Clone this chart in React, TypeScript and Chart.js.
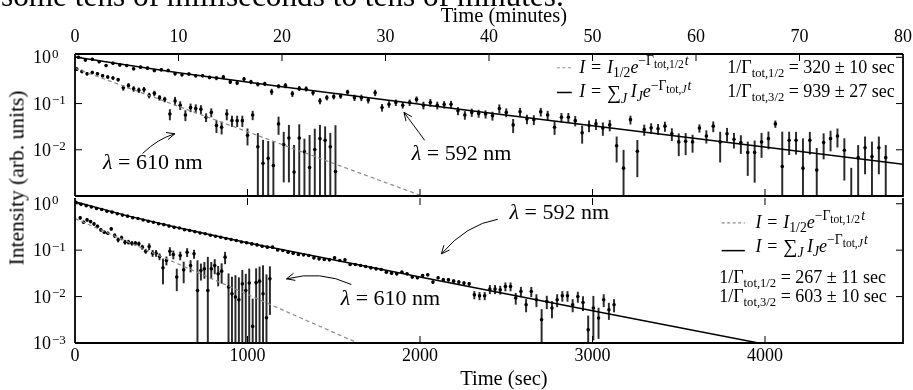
import React, { useEffect, useRef } from "react";
import { Chart, registerables } from "chart.js";
Chart.register(...registerables);

const FONT = '"Liberation Serif", "DejaVu Serif", serif';

// ---------------- data (seconds, arb. units) ----------------
const topTime592 = [20, 60, 100, 140, 180, 220, 260, 300, 340, 380, 420, 460, 500, 540, 580, 620, 660, 700, 740, 780, 820, 860, 900, 940, 980, 1020, 1060, 1100, 1140, 1180, 1220, 1260, 1300, 1340, 1380, 1420, 1460, 1500, 1540, 1580, 1620, 1660, 1700, 1740, 1780, 1820, 1860, 1900, 1940, 1980, 2020, 2060, 2100, 2140, 2180, 2220, 2260, 2300, 2340, 2380, 2420, 2460, 2500, 2540, 2580, 2620, 2660, 2700, 2740, 2780, 2820, 2860, 2900, 2940, 2980, 3020, 3060, 3100, 3140, 3180, 3220, 3260, 3300, 3340, 3380, 3420, 3460, 3500, 3540, 3580, 3620, 3660, 3700, 3740, 3780, 3820, 3860, 3900, 3940, 3980, 4020, 4060, 4100, 4140, 4180, 4220, 4260, 4300, 4340, 4380, 4420, 4460, 4500, 4540, 4580, 4620, 4660, 4700];
const topI592 = [1.0, 0.877, 0.906, 0.807, 0.663, 0.745, 0.686, 0.663, 0.564, 0.613, 0.583, 0.519, 0.537, 0.519, 0.442, 0.421, 0.435, 0.4, 0.4, 0.368, 0.357, 0.375, 0.294, 0.28, 0.34, 0.294, 0.261, 0.267, 0.18, 0.237,
  0.245, 0.163, 0.212, 0.208, 0.171, 0.114, 0.134, 0.141, 0.145, 0.177, 0.134, 0.134, 0.119, 0.171, 0.0822, 0.0966, 0.105, 0.092, 0.105, 0.123, 0.092, 0.105, 0.092, 0.0953, 0.0966, 0.0697, 0.0564, 0.0644, 0.0612, 0.0592,
  0.0545, 0.0782, 0.0644, 0.0345, 0.0663, 0.0463, 0.0448, 0.0663, 0.0564, 0.0308, 0.0504, 0.0504, 0.0427, 0.0233, 0.0334, 0.0363, 0.0294, 0.0345, 0.0122, 0.004, 0.0448, 0.0093, 0.0274, 0.0298, 0.0284, 0.0324, 0.0222, 0.0148, 0.0152,
  0.0148, 0.0294, 0.0199, 0.0324, 0.0148, 0.0222, 0.0168, 0.0143, 0.00877, 0.00877, 0.0148, 0.0174, 0.0363, 0.00435, 0.016, 0.016, 0.004, 0.016, 0.00363, 0.0143, 0.0174, 0.0199, 0.0098, 0.0008, 0.00676, 0.011, 0.0071, 0.011, 0.00676];
const topErr592 = [0.06, 0.053, 0.054, 0.048, 0.04, 0.045, 0.041, 0.04, 0.034, 0.037,
  0.041, 0.036, 0.038, 0.036, 0.031, 0.029, 0.03, 0.028, 0.028, 0.026,
  0.032, 0.034, 0.026, 0.025, 0.031, 0.026, 0.023, 0.024, 0.025, 0.021,
  0.027, 0.022, 0.023, 0.023, 0.019, 0.016, 0.015, 0.016, 0.016, 0.019,
  0.019, 0.019, 0.017, 0.024, 0.014, 0.014, 0.015, 0.013, 0.015, 0.017,
  0.016, 0.018, 0.016, 0.016, 0.016, 0.013, 0.011, 0.012, 0.011, 0.011,
  0.011, 0.016, 0.013, 0.011, 0.013, 0.01, 0.01, 0.013, 0.012, 0.0095,
  0.011, 0.011, 0.01, 0.0095, 0.009, 0.009, 0.009, 0.009, 0.0068, 0.0058,
  0.009, 0.0067, 0.007, 0.007, 0.007, 0.0075, 0.0065, 0.0074, 0.0074,
  0.006, 0.0055, 0.006, 0.008, 0.0094, 0.007, 0.006, 0.006, 0.006, 0.0068, 0.008,
  0.007, 0.006, 0.0199, 0.0082, 0.008, 0.0134, 0.008, 0.0071, 0.008, 0.008,
  0.0085, 0.0076, 0.0032, 0.0057, 0.008, 0.0077, 0.008, 0.0057];

const topTime610 = [10, 40, 70, 100, 130, 160, 190, 220, 250, 280, 310, 340, 370, 400, 430, 460, 490, 520, 550, 580, 610, 640, 670, 700, 730, 760, 790, 820, 850, 880, 910, 940, 970, 1000, 1030, 1060, 1090, 1120, 1150, 1180, 1210, 1240, 1270, 1300, 1330, 1360, 1390, 1420, 1450, 1480, 1510];
const topI610 = [0.555, 0.494, 0.441, 0.47, 0.441, 0.4, 0.375, 0.357, 0.329, 0.219, 0.245, 0.208, 0.195, 0.201, 0.15, 0.166, 0.134, 0.123, 0.0592, 0.114, 0.092, 0.0564, 0.0822, 0.0783, 0.0756, 0.0504, 0.0644, 0.0334, 0.0308, 0.0592, 0.0427, 0.0427, 0.0427, 0.0205, 0.0564, 0.0116, 0.00511, 0.00653, 0.00457, 0.0363, 0.013, 0.018, 0.00329, 0.018, 0.00906, 0.00414, 0.0101, 0.0174, 0.016, 0.0116, 0.0034];
const topErr610 = [0.039, 0.035, 0.031, 0.033, 0.031, 0.028, 0.026, 0.025, 0.023, 0.026, 0.029, 0.025, 0.023, 0.024, 0.018, 0.02, 0.016, 0.015, 0.015, 0.023, 0.018, 0.014, 0.016, 0.016, 0.015, 0.01, 0.013, 0.01, 0.009, 0.015, 0.011, 0.011, 0.011, 0.0079, 0.012, 0.011, 0.011, 0.0087, 0.0103, 0.0149, 0.011, 0.016, 0.0092, 0.017, 0.008, 0.0164, 0.018, 0.0165, 0.0155, 0.0112, 0.03];

const botTime592 = [5, 35, 65, 95, 125, 155, 185, 215, 245, 275, 305, 335, 365, 395, 425, 455, 485, 515, 545, 575, 605, 635, 665, 695, 725, 755, 785, 815, 845, 875, 905, 935, 965, 995, 1025, 1055, 1085, 1115, 1145, 1175, 1205, 1235, 1265, 1295, 1325, 1355, 1385, 1415, 1445, 1475, 1505, 1535, 1565, 1595, 1625, 1655, 1685, 1715, 1745, 1775, 1805, 1835, 1865, 1895, 1925, 1955, 1985, 2015, 2045, 2075, 2105, 2135, 2165, 2195, 2225, 2255, 2285, 2315, 2345, 2375, 2405, 2435, 2465, 2495, 2525, 2555, 2585, 2615, 2645, 2675, 2705, 2735, 2765, 2795, 2825, 2855, 2885, 2915, 2945, 2975, 3005, 3035, 3065, 3095, 3125];
const botI592 = [1.08, 0.97, 0.91, 0.85, 0.79, 0.75, 0.69, 0.66, 0.61, 0.57, 0.54, 0.5, 0.48, 0.445, 0.42, 0.4, 0.37, 0.355, 0.33, 0.31, 0.3, 0.275, 0.265, 0.25, 0.235, 0.225, 0.21, 0.2, 0.19, 0.178, 0.17, 0.162, 0.15, 0.145,
  0.1365, 0.13, 0.1217, 0.116, 0.116, 0.1014, 0.0982, 0.0904, 0.0861, 0.0805, 0.0792, 0.0766, 0.0683, 0.065, 0.0628, 0.0618, 0.0683, 0.0598, 0.0618, 0.0491, 0.0491, 0.0468, 0.0445, 0.0416, 0.0396, 0.0383, 0.0336, 0.032, 0.0309, 0.0336, 0.0309, 0.0263, 0.0254, 0.0284, 0.0294, 0.0205, 0.0254,
  0.023, 0.023, 0.0215, 0.0205, 0.0195, 0.0188,
  0.0109, 0.0104, 0.0104, 0.0145, 0.0145, 0.014, 0.0165, 0.0165, 0.0093, 0.0129, 0.00667, 0.0129, 0.00853, 0.00317, 0.00785, 0.00566, 0.00853, 0.0104, 0.0104, 0.00667, 0.01, 0.00747, 0.00193, 0.00566, 0.00345, 0.00853, 0.0052, 0.00667];
const botErr592 = [0.032, 0.029, 0.027, 0.026, 0.024, 0.023, 0.021, 0.02, 0.018, 0.017, 0.016, 0.015, 0.014, 0.013, 0.013, 0.012, 0.011, 0.011, 0.01, 0.0093, 0.009, 0.0083, 0.008, 0.0075, 0.0071, 0.0068, 0.0063, 0.006, 0.0057, 0.0053, 0.0051, 0.0049, 0.0045, 0.0044,
  0.0068, 0.0065, 0.0061, 0.0058, 0.0058, 0.0051, 0.0049, 0.0045, 0.0043, 0.004, 0.004, 0.0038, 0.0034, 0.0033, 0.0031, 0.0031, 0.0034, 0.003, 0.0031, 0.0025, 0.0025, 0.0023, 0.0022, 0.0021, 0.002, 0.0019, 0.0017, 0.0016, 0.0015, 0.0017, 0.0015, 0.0013, 0.0013, 0.0014, 0.0015, 0.0012, 0.0013,
  0.0018, 0.0018, 0.0017, 0.0016, 0.0016, 0.0015,
  0.002, 0.0019, 0.0019, 0.003, 0.003, 0.0028, 0.0033, 0.0033, 0.0025, 0.003, 0.002, 0.003, 0.0025, 0.0021, 0.0024, 0.0022, 0.0025, 0.0025, 0.0025, 0.002, 0.0025, 0.0025, 0.0019, 0.0045, 0.0022, 0.0025, 0.002, 0.002];

const botTime610 = [30, 50, 70, 90, 110, 130, 150, 170, 190, 210, 230, 250, 270, 290, 310, 330, 350, 370, 390, 410, 430, 450, 470, 490, 510, 530, 550, 570, 590, 610, 630, 650, 670, 690, 710, 730, 750, 770, 790, 810, 830, 850, 870, 890, 910, 930, 950, 970, 990, 1010, 1030, 1050, 1070, 1090, 1110, 1130];
const botI610 = [0.495, 0.4, 0.449, 0.412, 0.368, 0.328, 0.273, 0.244, 0.232, 0.287, 0.206, 0.167, 0.184, 0.149, 0.149, 0.141, 0.141, 0.137, 0.116, 0.095, 0.12, 0.0861, 0.0861, 0.0729, 0.0416, 0.0598, 0.095, 0.0805, 0.0263, 0.0766, 0.0377, 0.0904, 0.0468, 0.0832, 0.0135, 0.0365, 0.0396, 0.0135, 0.0396, 0.0468, 0.0309, 0.0353, 0.0707, 0.016, 0.0115, 0.00975, 0.00853, 0.0188, 0.0135, 0.0195, 0.00228, 0.02, 0.0215, 0.0115, 0.0035, 0.0241];
const botErr610 = [0.03, 0.024, 0.027, 0.025, 0.022, 0.02, 0.016, 0.015, 0.014, 0.017, 0.021, 0.017, 0.018, 0.015, 0.015, 0.014, 0.014, 0.014, 0.012, 0.01, 0.018, 0.013, 0.013, 0.011, 0.023, 0.012, 0.019, 0.016, 0.013, 0.015, 0.018, 0.018, 0.013, 0.017, 0.046, 0.014, 0.015, 0.057, 0.015, 0.016, 0.014, 0.016, 0.02, 0.015, 0.0148, 0.0187, 0.017, 0.018, 0.017, 0.02, 0.0066, 0.02, 0.022, 0.035, 0.026, 0.02];

// fitted curves
const topFitTime592 = [0, 300, 600, 1200, 2400, 3600, 4800];
const topFitI592 = [1.02, 0.684, 0.464, 0.231, 0.0626, 0.0175, 0.00486];
const topFitTime610 = [0, 2000];
const topFitI610 = [0.58, 0.00104];
const botFitTime592 = [0, 300, 600, 1000, 2000, 3000, 4000];
const botFitI592 = [1.1, 0.555, 0.304, 0.145, 0.0263, 0.00497, 0.00094];
const botFitTime610 = [0, 1700];
const botFitI610 = [0.48, 0.000795];

// axes
const secTicks = [0, 1000, 2000, 3000, 4000];
const minTicks = [0, 10, 20, 30, 40, 50, 60, 70, 80];
const topDecades = [1, 0.1, 0.01];
const botDecades = [1, 0.1, 0.01, 0.001];

// texts
const caption = "some tens of milliseconds to tens of minutes.";
const topTitle = "Time (minutes)";
const botTitle = "Time (sec)";
const yTitle = "Intensity (arb. units)";
const topTau = ["320 \u00b1 10", "939 \u00b1 27"];
const botTau = ["267 \u00b1 11", "603 \u00b1 10"];
const wavelengths = ["610", "592"];

// annotations in data coordinates: [t, I]
const topAnnText = [[162, 0.0054], [1952, 0.00834]];
const topAnnArrow = [
  [[392, 0.00834], [481, 0.0174], [579, 0.0222]],
  [[2027, 0.016], [1958, 0.0361], [1907, 0.0644]],
];
const botAnnText = [[1540, 0.0093], [2519, 0.676]];
const botAnnArrow = [
  [[1602, 0.0182], [1424, 0.0373], [1226, 0.0241]],
  [[2451, 0.464], [2268, 0.355], [2124, 0.0832]],
];

// ---------------- helpers ----------------
type Seg = { t: string; it?: boolean; s?: number; dy?: number; gap?: number };
const SUB = 0.76;
const SUB2 = 0.64;
const LEG = 18;
const TITLE = 20.5;

function drawRich(ctx: any, segs: Seg[], x: number, y: number, size: number, align = "left") {
  let w = 0;
  const items = segs.map((g) => {
    const sz = size * (g.s ?? 1);
    const font = `${g.it ? "italic " : ""}${sz}px ${FONT}`;
    ctx.font = font;
    const m = g.gap !== undefined ? g.gap * size : ctx.measureText(g.t).width;
    w += m;
    return { g, font, m };
  });
  let cx = align === "right" ? x - w : align === "center" ? x - w / 2 : x;
  ctx.textAlign = "left";
  ctx.textBaseline = "alphabetic";
  ctx.fillStyle = "#000";
  for (const it of items) {
    if (it.g.gap === undefined) {
      ctx.font = it.font;
      ctx.fillText(it.g.t, cx, y + (it.g.dy ?? 0) * size);
    }
    cx += it.m;
  }
  return w;
}

const EQ: Seg[] = [{ t: "", gap: 0.32 }, { t: "=" }, { t: "", gap: 0.32 }];
const eqHalf: Seg[] = [
  { t: "I", it: true }, ...EQ, { t: "I", it: true }, { t: "1/2", s: SUB, dy: 0.22 },
  { t: "e", it: true }, { t: "\u2212\u0393", s: SUB, dy: -0.42 }, { t: "tot,1/2", s: SUB2, dy: -0.25 }, { t: "", gap: 0.06 }, { t: "t", it: true, s: SUB, dy: -0.42 },
];
const eqSum: Seg[] = [
  { t: "I", it: true }, ...EQ, { t: "\u2211", s: 1.1, dy: 0.06 }, { t: "J", it: true, s: SUB, dy: 0.32 }, { t: "", gap: 0.2 },
  { t: "I", it: true }, { t: "J", it: true, s: SUB, dy: 0.22 },
  { t: "e", it: true }, { t: "\u2212\u0393", s: SUB, dy: -0.42 }, { t: "tot,", s: SUB2, dy: -0.25 }, { t: "J", it: true, s: SUB2, dy: -0.25 }, { t: "", gap: 0.06 }, { t: "t", it: true, s: SUB, dy: -0.42 },
];
const tauSeg = (j: string, v: string): Seg[] => [{ t: "1/\u0393" }, { t: `tot,${j}`, s: 0.7, dy: 0.22 }, { t: ` = ${v} sec` }];
const lamSeg = (wl: string): Seg[] => [{ t: "\u03bb", it: true }, { t: ` = ${wl} nm` }];

function sample(ctx: any, x0: number, x1: number, y: number, dashed: boolean) {
  ctx.save();
  ctx.beginPath();
  ctx.strokeStyle = dashed ? "#8a8a8a" : "#000";
  ctx.lineWidth = dashed ? 1.2 : 1.5;
  ctx.setLineDash(dashed ? [3, 2.5] : []);
  ctx.moveTo(x0, y);
  ctx.lineTo(x1, y);
  ctx.stroke();
  ctx.restore();
}

function arrow(ctx: any, chart: any, pts: number[][]) {
  const X = chart.scales.x, Y = chart.scales.y;
  const p = pts.map((q) => ({ x: X.getPixelForValue(q[0]), y: Y.getPixelForValue(q[1]) }));
  ctx.save();
  ctx.strokeStyle = "#000";
  ctx.lineWidth = 1;
  ctx.beginPath();
  ctx.moveTo(p[0].x, p[0].y);
  ctx.quadraticCurveTo(p[1].x, p[1].y, p[2].x, p[2].y);
  ctx.stroke();
  const ang = Math.atan2(p[2].y - p[1].y, p[2].x - p[1].x);
  const L = 9, A = 0.42;
  ctx.beginPath();
  ctx.moveTo(p[2].x - L * Math.cos(ang - A), p[2].y - L * Math.sin(ang - A));
  ctx.lineTo(p[2].x, p[2].y);
  ctx.lineTo(p[2].x - L * Math.cos(ang + A), p[2].y - L * Math.sin(ang + A));
  ctx.stroke();
  ctx.restore();
}

function frame(ctx: any, a: any, topX: number[], botX: number[], ys: number[], drawTopEdge: boolean) {
  ctx.save();
  ctx.strokeStyle = "#000";
  ctx.lineWidth = 1;
  const L = 7;
  ctx.beginPath();
  for (const x of topX) {
    if (x <= a.left + 1 || x >= a.right - 1) continue;
    ctx.moveTo(x, a.top); ctx.lineTo(x, a.top + L);
  }
  for (const x of botX) {
    if (x <= a.left + 1 || x >= a.right - 1) continue;
    ctx.moveTo(x, a.bottom); ctx.lineTo(x, a.bottom - L);
  }
  for (const y of ys) {
    if (y <= a.top + 1 || y >= a.bottom - 1) continue;
    ctx.moveTo(a.left, y); ctx.lineTo(a.left + L, y);
    ctx.moveTo(a.right, y); ctx.lineTo(a.right - L, y);
  }
  ctx.stroke();
  ctx.lineWidth = 1.8;
  ctx.beginPath();
  if (drawTopEdge) {
    ctx.moveTo(a.left, a.top); ctx.lineTo(a.right, a.top);
  }
  ctx.moveTo(a.right, a.top); ctx.lineTo(a.right, a.bottom);
  ctx.lineTo(a.left, a.bottom);
  ctx.moveTo(a.left, a.bottom); ctx.lineTo(a.left, a.top);
  ctx.stroke();
  ctx.restore();
}

function yLabels(ctx: any, Y: any, vals: number[]) {
  ctx.save();
  ctx.fillStyle = "#000";
  ctx.textBaseline = "alphabetic";
  ctx.textAlign = "left";
  for (const v of vals) {
    const y = Y.getPixelForValue(v);
    const e = Math.round(Math.log10(v));
    const es = e === 0 ? "0" : "\u2212" + Math.abs(e);
    ctx.font = `18px ${FONT}`;
    ctx.fillText("10", 33, y + 6);
    const w = ctx.measureText("10").width;
    ctx.font = `13px ${FONT}`;
    ctx.fillText(es, 33 + w + 1, y + 0.5);
  }
  ctx.restore();
}

function centeredText(ctx: any, text: string, x: number, y: number, size: number) {
  ctx.save();
  ctx.font = `${size}px ${FONT}`;
  ctx.fillStyle = "#000";
  ctx.textAlign = "center";
  ctx.textBaseline = "middle";
  ctx.fillText(text, x, y);
  ctx.restore();
}

const pts = (ts: number[], vs: number[]) => ts.map((t, i) => ({ x: t, y: vs[i] }));
const bars = (ts: number[], vs: number[], es: number[]) =>
  ts.map((t, i) => ({ x: t, y: [Math.max(vs[i] - es[i], 1e-6), vs[i] + es[i]] }));

function datasets(t592: number[], i592: number[], e592: number[], t610: number[], i610: number[], e610: number[], ft592: number[], fi592: number[], ft610: number[], fi610: number[]) {
  const barStyle = { type: "bar", backgroundColor: "#2a2a2a", barThickness: 1.3, grouped: false, clip: 0, order: 5 };
  const ptStyle = { type: "scatter", pointRadius: 1.8, pointBackgroundColor: "#000", pointBorderWidth: 0, showLine: false, clip: 0, order: 3 };
  return [
    { ...barStyle, data: bars(t592, i592, e592) },
    { ...barStyle, data: bars(t610, i610, e610) },
    { ...ptStyle, data: pts(t592, i592) },
    { ...ptStyle, data: pts(t610, i610) },
    { type: "line", data: pts(ft592, fi592), borderColor: "#000", borderWidth: 1.5, pointRadius: 0, tension: 0, fill: false, clip: 0, order: 1 },
    { type: "line", data: pts(ft610, fi610), borderColor: "#8a8a8a", borderWidth: 1.2, borderDash: [4, 3], pointRadius: 0, tension: 0, fill: false, clip: 0, order: 2 },
  ];
}

const hidden = { display: false };
const baseOpts = {
  responsive: false,
  animation: false,
  devicePixelRatio: 1,
  events: [],
  plugins: { legend: hidden, tooltip: { enabled: false } },
};

function topConfig(): any {
  const decor = {
    id: "topDecor",
    afterDraw(chart: any) {
      const { ctx, chartArea: a, scales } = chart;
      const W = a.right - a.left, H = a.bottom - a.top;
      // cropped caption line above the figure
      ctx.save();
      ctx.font = `30px ${FONT}`;
      const cw = ctx.measureText(caption).width;
      ctx.font = `${(30 * 563) / cw}px ${FONT}`;
      ctx.fillStyle = "#000";
      ctx.textBaseline = "alphabetic";
      ctx.textAlign = "left";
      ctx.fillText(caption, 1, 6);
      ctx.restore();
      centeredText(ctx, topTitle, a.left + 0.518 * W, 17, TITLE);
      frame(ctx, a, minTicks.map((v) => scales.xm.getPixelForValue(v)), secTicks.map((v) => scales.x.getPixelForValue(v)), topDecades.map((v) => scales.y.getPixelForValue(v)), true);
      yLabels(ctx, scales.y, topDecades);
      // legend
      const r1 = a.top + 0.097 * H, r2 = a.top + 0.271 * H;
      sample(ctx, a.left + 0.582 * W, a.left + 0.6 * W, r1, true);
      sample(ctx, a.left + 0.582 * W, a.left + 0.6 * W, r2, false);
      drawRich(ctx, eqHalf, a.left + 0.609 * W, r1 + 5, LEG);
      drawRich(ctx, eqSum, a.left + 0.609 * W, r2 + 5, LEG);
      drawRich(ctx, tauSeg("1/2", topTau[0]), a.left + 0.99 * W, r1 + 5, LEG, "right");
      drawRich(ctx, tauSeg("3/2", topTau[1]), a.left + 0.99 * W, r2 + 5, LEG, "right");
      // annotations
      topAnnText.forEach((p, i) => {
        drawRich(ctx, lamSeg(wavelengths[i]), scales.x.getPixelForValue(p[0]), scales.y.getPixelForValue(p[1]) + 7, 22);
        arrow(ctx, chart, topAnnArrow[i]);
      });
    },
  };
  return {
    type: "scatter",
    data: { datasets: datasets(topTime592, topI592, topErr592, topTime610, topI610, topErr610, topFitTime592, topFitI592, topFitTime610, topFitI610) },
    options: {
      ...baseOpts,
      layout: { padding: { left: 75, right: 10, top: 0, bottom: 2 } },
      scales: {
        x: { type: "linear", display: false, offset: false, min: 0, max: 4800 },
        xm: {
          type: "linear", position: "top", offset: false, min: 0, max: 80,
          ticks: { color: "#000", font: { family: FONT, size: 18 }, padding: 6, maxRotation: 0, autoSkip: false },
          grid: { display: false, drawTicks: false, offset: false },
          border: { display: false },
          afterBuildTicks: (s: any) => { s.ticks = minTicks.map((v) => ({ value: v })); },
          afterFit: (s: any) => { s.height = 54; s.paddingLeft = 0; s.paddingRight = 0; },
        },
        y: { type: "logarithmic", display: false, min: 0.001, max: 1.18 },
      },
    },
    plugins: [decor],
  };
}

function botConfig(): any {
  const decor = {
    id: "botDecor",
    afterDraw(chart: any) {
      const { ctx, chartArea: a, scales } = chart;
      const W = a.right - a.left, H = a.bottom - a.top;
      const sx = secTicks.map((v) => scales.x.getPixelForValue(v));
      frame(ctx, a, sx, sx, botDecades.map((v) => scales.y.getPixelForValue(v)), false);
      yLabels(ctx, scales.y, botDecades);
      centeredText(ctx, botTitle, a.left + 0.518 * W, 200, TITLE);
      // legend
      const r1 = a.top + 0.172 * H, r2 = a.top + 0.336 * H;
      sample(ctx, a.left + 0.781 * W, a.left + 0.809 * W, r1, true);
      sample(ctx, a.left + 0.781 * W, a.left + 0.809 * W, a.top + 0.363 * H, false);
      drawRich(ctx, eqHalf, a.left + 0.822 * W, r1 + 5, LEG);
      drawRich(ctx, eqSum, a.left + 0.822 * W, r2 + 5, LEG);
      drawRich(ctx, tauSeg("1/2", botTau[0]), a.left + 0.778 * W, a.top + 0.554 * H + 5, LEG);
      drawRich(ctx, tauSeg("3/2", botTau[1]), a.left + 0.778 * W, a.top + 0.685 * H + 5, LEG);
      botAnnText.forEach((p, i) => {
        drawRich(ctx, lamSeg(wavelengths[i]), scales.x.getPixelForValue(p[0]), scales.y.getPixelForValue(p[1]) + 7, 22);
        arrow(ctx, chart, botAnnArrow[i]);
      });
    },
  };
  return {
    type: "scatter",
    data: { datasets: datasets(botTime592, botI592, botErr592, botTime610, botI610, botErr610, botFitTime592, botFitI592, botFitTime610, botFitI610) },
    options: {
      ...baseOpts,
      layout: { padding: { left: 75, right: 10, top: 18, bottom: 0 } },
      scales: {
        x: {
          type: "linear", position: "bottom", offset: false, min: 0, max: 4800,
          ticks: { color: "#000", font: { family: FONT, size: 18 }, padding: 2, maxRotation: 0, autoSkip: false, callback: (v: any) => String(v) },
          grid: { display: false, drawTicks: false, offset: false },
          border: { display: false },
          afterBuildTicks: (s: any) => { s.ticks = secTicks.map((v) => ({ value: v })); },
          afterFit: (s: any) => { s.height = 47; s.paddingLeft = 0; s.paddingRight = 0; },
        },
        y: { type: "logarithmic", display: false, min: 0.001, max: 1.33 },
      },
    },
    plugins: [decor],
  };
}

export default function App() {
  const topRef = useRef<HTMLCanvasElement>(null);
  const botRef = useRef<HTMLCanvasElement>(null);
  useEffect(() => {
    const c1 = new Chart(topRef.current as HTMLCanvasElement, topConfig());
    const c2 = new Chart(botRef.current as HTMLCanvasElement, botConfig());
    return () => {
      c1.destroy();
      c2.destroy();
    };
  }, []);
  return (
    <div style={{ position: "fixed", left: 0, top: 0, width: 913, height: 390, background: "#fff", overflow: "hidden" }}>
      <canvas ref={topRef} width={913} height={200} style={{ position: "absolute", left: 0, top: 0, width: 913, height: 200 }} />
      <canvas ref={botRef} width={913} height={210} style={{ position: "absolute", left: 0, top: 180, width: 913, height: 210 }} />
      <div
        style={{
          position: "absolute", left: 17, top: 178, transform: "translate(-50%, -50%) rotate(-90deg)",
          font: `21.5px ${FONT}`, whiteSpace: "nowrap", color: "#000",
        }}
      >
        {yTitle}
      </div>
    </div>
  );
}
